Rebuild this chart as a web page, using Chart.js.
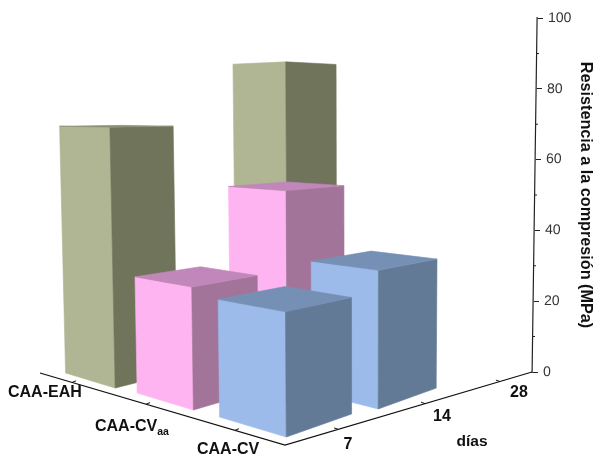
<!DOCTYPE html>
<html><head><meta charset="utf-8">
<style>html,body{margin:0;padding:0;background:#fff}#wrap{width:595px;height:456px;position:relative}</style>
<script src="https://cdn.jsdelivr.net/npm/chart.js@4"></script>
</head><body><div id="wrap"><canvas id="c" width="595" height="456"></canvas></div>
<script>
// ---- data ----
const days = ['7', '14', '28'];
const categories = ['CAA-EAH', 'CAA-CV', 'CAA-CV'];
const categorySubscripts = ['', 'aa', ''];
const valuesEAH = [70, null, 89];
const valuesCVaa = [31, 53, null];
const valuesCV = [29, 35, null];
const valueTicks = [0, 20, 40, 60, 80, 100];
const minorTicks = [10, 30, 50, 70, 90];
const valueTitle = 'Resistencia a la compresión (MPa)';
const dayTitle = 'días';

// ---- styles ----
const palette = [
  {front: '#b0b593', side: '#70745b', top: '#8c8f74'},
  {front: '#fdb4f0', side: '#a3749a', top: '#c186ba'},
  {front: '#9cbbeb', side: '#637a96', top: '#7690b5'}
];

// ---- perspective layout (camera, footprint slots by category and day) ----
const VPU = [-800, 110], VPV = [1210, 110], VPZ = [361, 12530], ORIGIN = [285, 445];
const GAMMA_PER_PX = -0.000362 * 100 / 354;
const slotT = [[0.2305, 0, 0.21], [0.138, 0.132, 0], [0.044, 0.037, 0]];
const slotS = [[0.0447, 0, 0.2485], [0.05, 0.1585, 0], [0.0527, 0.159, 0]];
const halfT = [0.0345, 0.0335, 0.0335];
const halfS = [[0.036, 0, 0.039], [0.038, 0.04, 0], [0.039, 0.042, 0]];
// floor axes
const AXIS_A = [40, 373], AXIS_B = [285, 445], AXIS_C = [532, 372];
const catTickFrac = [0.131, 0.433, 0.796], dayTickFrac = [0.215, 0.567, 0.87];
const catLabelPos = [[8, 393], [95, 427], [197, 450]];
const dayLabelPos = [[348, 445], [442, 417], [519, 393]];
const SHEAR = -5 / 354, SHEAR_E = 2.754;

function project(t, s, h) {
  const q = GAMMA_PER_PX * h;
  const w = 1 + t + s + q;
  return [
    (ORIGIN[0] + t * VPU[0] + s * VPV[0] + q * VPZ[0]) / w,
    (ORIGIN[1] + t * VPU[1] + s * VPV[1] + q * VPZ[1]) / w
  ];
}
function poly(ctx, pts, fill) {
  ctx.beginPath();
  pts.forEach((p, i) => i ? ctx.lineTo(p[0], p[1]) : ctx.moveTo(p[0], p[1]));
  ctx.closePath();
  ctx.fillStyle = fill; ctx.strokeStyle = fill; ctx.lineWidth = 0.6;
  ctx.fill(); ctx.stroke();
}

const box3d = {
  id: 'box3d',
  beforeDatasetsDraw(chart) {
    const ctx = chart.ctx, y = chart.scales.y, boxes = [];
    chart.data.datasets.forEach((ds, c) => {
      const meta = chart.getDatasetMeta(c);
      ds.data.forEach((v, d) => {
        if (v == null) return;
        const parsed = meta._parsed[d].y;
        boxes.push({c, h: y.getPixelForValue(0) - y.getPixelForValue(parsed),
                    tc: slotT[c][d], sc: slotS[c][d], ht: halfT[c], hs: halfS[c][d]});
      });
    });
    boxes.sort((a, b) => (b.tc + b.sc) - (a.tc + a.sc));
    ctx.save();
    boxes.forEach(b => {
      const t0 = b.tc - b.ht, t1 = b.tc + b.ht, s0 = b.sc - b.hs, s1 = b.sc + b.hs;
      const col = palette[b.c];
      const F = project(t0, s0, 0), L = project(t1, s0, 0), R = project(t0, s1, 0);
      const Ft = project(t0, s0, b.h), Lt = project(t1, s0, b.h), Rt = project(t0, s1, b.h), Bt = project(t1, s1, b.h);
      poly(ctx, [L, F, Ft, Lt], col.front);
      poly(ctx, [F, R, Rt, Ft], col.side);
      // the lid is only visible when it lies below the horizon
      if (Bt[1] < Ft[1]) poly(ctx, [Lt, Ft, Rt, Bt], col.top);
    });
    ctx.restore();
    return false;
  },
  afterDraw(chart) {
    const ctx = chart.ctx;
    ctx.save();
    ctx.strokeStyle = '#111'; ctx.lineWidth = 1.2;
    ctx.beginPath();
    ctx.moveTo(AXIS_A[0], AXIS_A[1]); ctx.lineTo(AXIS_B[0], AXIS_B[1]); ctx.lineTo(AXIS_C[0], AXIS_C[1]);
    ctx.stroke();
    ctx.lineWidth = 1;
    const lerp = (P, Q, f) => [P[0] + (Q[0] - P[0]) * f, P[1] + (Q[1] - P[1]) * f];
    catTickFrac.forEach(f => {
      const p = lerp(AXIS_A, AXIS_B, f);
      ctx.beginPath(); ctx.moveTo(p[0], p[1]); ctx.lineTo(p[0] + 4, p[1] - 1.6); ctx.stroke();
    });
    dayTickFrac.forEach(f => {
      const p = lerp(AXIS_B, AXIS_C, f);
      ctx.beginPath(); ctx.moveTo(p[0], p[1]); ctx.lineTo(p[0] - 4, p[1] - 1.4); ctx.stroke();
    });
    ctx.fillStyle = '#111';
    ctx.textBaseline = 'middle';
    ctx.textAlign = 'left';
    const F = 'bold 16px "Liberation Sans", Arial, sans-serif';
    categories.forEach((name, i) => {
      ctx.font = F;
      ctx.fillText(name, catLabelPos[i][0], catLabelPos[i][1]);
      if (categorySubscripts[i]) {
        const w = ctx.measureText(name).width;
        ctx.font = 'bold 10.5px "Liberation Sans", Arial, sans-serif';
        ctx.fillText(categorySubscripts[i], catLabelPos[i][0] + w, catLabelPos[i][1] + 5);
      }
    });
    ctx.font = 'bold 16px "Liberation Sans", Arial, sans-serif';
    ctx.textAlign = 'center';
    days.forEach((d, i) => ctx.fillText(d, dayLabelPos[i][0], dayLabelPos[i][1]));
    ctx.font = 'bold 15.5px "Liberation Sans", Arial, sans-serif';
    ctx.fillText(dayTitle, 472, 442);
    ctx.restore();
  }
};

function shearScale(scale) {
  if (scale._sheared) return;
  scale._sheared = true;
  const proto = Object.getPrototypeOf(scale);
  const wrap = (fn, after) => function (...args) {
    const ctx = this.ctx;
    ctx.save();
    ctx.transform(1, 0, SHEAR, 1, SHEAR_E, 0);
    fn.apply(this, args);
    if (after) after.call(this, ctx);
    ctx.restore();
  };
  scale.drawGrid = wrap(proto.drawGrid, function (ctx) {
    ctx.strokeStyle = '#222'; ctx.lineWidth = 1;
    minorTicks.forEach(v => {
      const py = this.getPixelForValue(v);
      ctx.beginPath(); ctx.moveTo(this.left, py); ctx.lineTo(this.left + 2.5, py); ctx.stroke();
    });
  });
  scale.drawBorder = wrap(proto.drawBorder);
  scale.drawLabels = wrap(proto.drawLabels);
}

new Chart(document.getElementById('c'), {
  type: 'bar',
  data: {
    labels: days,
    datasets: [
      {label: categories[0], data: valuesEAH, backgroundColor: palette[0].front},
      {label: categories[1] + categorySubscripts[1], data: valuesCVaa, backgroundColor: palette[1].front},
      {label: categories[2], data: valuesCV, backgroundColor: palette[2].front}
    ]
  },
  plugins: [box3d],
  options: {
    responsive: false,
    animation: false,
    layout: {padding: {top: 18, bottom: 84, left: 0, right: 0}},
    plugins: {legend: {display: false}, tooltip: {enabled: false}, title: {display: false}},
    scales: {
      x: {display: false},
      y: {
        position: 'right',
        min: 0, max: 100,
        afterBuildTicks(s) { s.ticks = valueTicks.map(value => ({value})); },
        afterFit(s) { s.width = 60.5; shearScale(s); },
        border: {display: true, color: '#222', width: 1.2},
        grid: {drawOnChartArea: false, drawTicks: true, tickLength: 6, color: '#222', tickColor: '#222', tickWidth: 1},
        ticks: {color: '#333', padding: 5, font: {family: '"Liberation Sans", Arial, sans-serif', size: 14}},
        title: {display: true, text: valueTitle, color: '#111', padding: {top: 0, bottom: 4},
                font: {family: '"Liberation Sans", Arial, sans-serif', size: 16.2, weight: 'bold'}}
      }
    }
  }
});
</script></body></html>
